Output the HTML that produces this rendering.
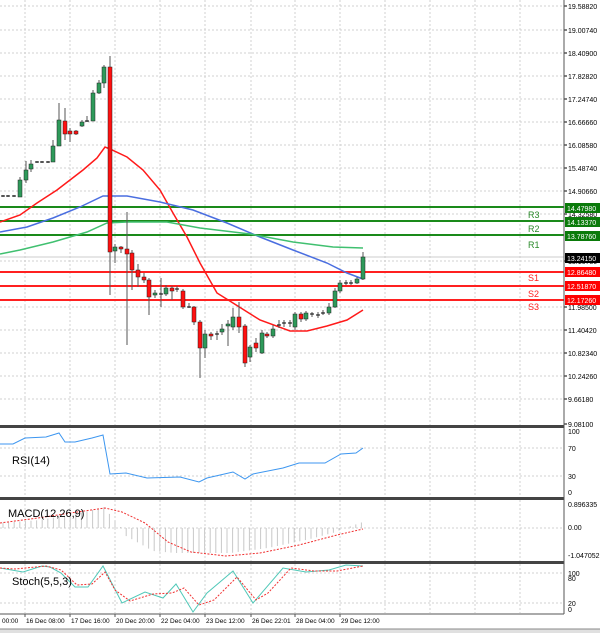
<!DOCTYPE html>
<html><head><meta charset="utf-8"><style>
html,body{margin:0;padding:0;background:#fff;}
svg{display:block;font-family:"Liberation Sans",sans-serif;}
</style></head><body>
<svg id="s" width="600" height="633" viewBox="0 0 600 633" xmlns="http://www.w3.org/2000/svg"></svg>
<script>
var s=document.getElementById('s'),h='';
function L(x1,y1,x2,y2,c,w,d){h+='<line x1="'+x1+'" y1="'+y1+'" x2="'+x2+'" y2="'+y2+'" stroke="'+c+'" stroke-width="'+(w||1)+'"'+(d?' stroke-dasharray="'+d+'"':'')+'/>';}
function P(pts,c,w,d){h+='<polyline fill="none" points="'+pts.map(function(p){return p.join(',')}).join(' ')+'" stroke="'+c+'" stroke-width="'+(w||1)+'"'+(d?' stroke-dasharray="'+d+'"':'')+'/>';}
function T(x,y,t,sz,c,a){h+='<text x="'+x+'" y="'+y+'" font-size="'+sz+'" fill="'+(c||'#000')+'"'+(a?' text-anchor="'+a+'"':'')+'>'+t+'</text>';}
var AX=564,G='#d0d0d0';
// vertical grid
var vx=[25,70,115,160,205,251,295,340,385,430,475,520];
var panels=[[0,425],[429,497],[500,561],[564,613]];
panels.forEach(function(p){vx.forEach(function(x){L(x,p[0],x,p[1],G,1,'2,2');});});
// main price grid/labels
var pl=[[6,'19.58820'],[30,'19.00740'],[53,'18.40900'],[76,'17.82820'],[99,'17.24740'],[122,'16.66660'],[145,'16.08580'],[168,'15.48740'],[191,'14.90660'],[214,'14.32580'],[261,'13.16780'],[307,'11.98500'],[330,'11.40420'],[353,'10.82340'],[376,'10.24260'],[399,'9.66180'],[424,'9.08100']];
pl.forEach(function(p){if(p[0]<420)L(0,p[0],AX,p[0],G,1,'2,2');L(AX,p[0],AX+3,p[0],'#000');T(568,p[0]+3,p[1],7);});
L(0,257,AX,257,'#ccc');
// S/R lines
[[207,'#1a8a1a'],[221,'#1a8a1a'],[235,'#1a8a1a']].forEach(function(r){L(0,r[0],AX,r[0],r[1],2);});
[[272,'#ff2020'],[286,'#ff2020'],[300,'#ff2020']].forEach(function(r){L(0,r[0],AX,r[0],r[1],2);});
T(528,218,'R3',9,'#2a8a2a');T(528,232,'R2',9,'#2a8a2a');T(528,248,'R1',9,'#2a8a2a');
T(528,281,'S1',9,'#ff2020');T(528,297,'S2',9,'#ff2020');T(528,310,'S3',9,'#ff2020');
// MAs
P([[0,222],[20,215],[37,203],[57,190],[83,170],[97,158],[105,147],[110,149],[127,157],[143,170],[160,190],[173,213],[187,237],[200,263],[217,293],[233,303],[260,320],[290,331],[307,331],[327,326],[347,320],[363,310]],'#ff1a1a',1.5);
P([[0,232],[27,227],[53,218],[80,207],[103,196],[127,196],[160,202],[193,210],[227,223],[260,237],[293,250],[327,263],[347,273],[363,279]],'#4a6ee0',1.5);
P([[0,254],[20,250],[53,242],[87,232],[107,223],[127,222],[167,222],[200,228],[250,234],[293,242],[333,247],[363,248]],'#40c070',1.5);
// candles [x,o,c,h,l]
var C=[[3,196,196,195,197],[8,196,196,195,197],[14,196,196,195,197],
[20,197,180,177,197],[26,180,170,161,183],[31,169,164,160,172],[37,162,162,161,163],[42,162,162,161,163],[48,162,162,161,163],
[53,162,146,140,162],[59,146,120,103,146],[65,121,134,108,140],[70,131,134,128,142],[76,131,134,130,135],[82,126,122,120,127],[87,121,121,116,122],
[93,121,93,90,121],[99,93,83,80,94],[104,83,67,65,88],[110,67,252,56,295],[115,251,247,244,263],[121,247,249,246,253],[127,249,254,212,345],
[132,253,270,250,290],[138,270,277,264,287],[144,277,280,273,283],[149,280,297,278,315],[155,295,293,290,298],[161,294,294,278,307],[166,294,288,285,296],
[172,288,291,286,300],[177,289,289,286,292],[183,291,307,289,309],[189,307,307,303,308],[194,307,322,306,325],[200,322,348,320,378],[205,348,334,330,358],
[211,334,336,332,340],[217,334,334,331,340],[222,332,329,324,335],[228,326,324,320,346],[233,327,317,308,330],[239,317,327,302,333],[245,326,363,324,367],
[250,357,347,345,362],[256,343,348,338,352],[262,353,333,330,354],[267,334,336,332,338],[273,336,329,325,338],[279,325,325,320,328],[284,323,323,320,327],
[290,323,323,320,327],[295,327,314,312,330],[301,314,319,312,322],[306,319,313,311,321],[312,314,314,312,317],[318,315,315,312,318],[323,313,313,310,315],
[329,313,307,303,315],[335,307,291,288,308],[340,291,283,280,293],[346,283,283,280,285],[351,283,283,280,285],[357,283,279,277,284],[363,279,257,252,280]];
C.forEach(function(c){var up=c[2]<=c[1];L(c[0],c[3],c[0],c[4],'#555');var t=Math.min(c[1],c[2]),b=Math.abs(c[1]-c[2]);if(b<1){L(c[0]-2,t,c[0]+2,t,'#000');}else{var w=c[0]==110?4:4;h+='<rect x="'+(c[0]-w/2)+'" y="'+t+'" width="'+w+'" height="'+b+'" fill="'+(up?'#2e9a5a':'#ff1010')+'" stroke="#222" stroke-width="0.5"/>';}});
// price tags
[[208,'#0a7a0a','14.47980'],[222,'#0a7a0a','14.13370'],[236,'#0a7a0a','13.78760'],[258,'#000','13.24150'],[272,'#f00','12.86480'],[286,'#f00','12.51870'],[300,'#f00','12.17260']].forEach(function(t){h+='<rect x="565" y="'+(t[0]-5)+'" width="35" height="10" fill="'+t[1]+'"/>';T(567,t[0]+3,t[2],7,'#fff');});
// separators
[[426],[498],[562]].forEach(function(y){h+='<rect x="0" y="'+(y[0]-1)+'" width="'+AX+'" height="3" fill="#444"/>';});
L(AX,0,AX,614,'#555');
// RSI
[[448,'70'],[476,'30']].forEach(function(p){L(0,p[0],AX,p[0],G,1,'2,2');});
T(568,434,'100',7);T(568,451,'70',7);T(568,479,'30',7);T(568,495,'0',7);
P([[0,444],[13,444],[25,438],[46,437],[59,433],[65,442],[75,442],[92,438],[103,435],[110,474],[126,473],[147,478],[180,477],[199,482],[207,478],[233,472],[245,479],[253,474],[283,468],[299,463],[325,463],[341,454],[356,453],[363,448]],'#3c96f0',1);
T(12,464,'RSI(14)',11);
// MACD
L(0,528,AX,528,G,1,'2,2');
T(568,507,'0.896335',7);T(568,530,'0.00',7);T(568,558,'-1.047052',7);
function hv(x){var k=[[0,-5],[40,-8],[80,-15],[105,-21],[112,-10],[120,-2],[126,8],[153,23],[175,25],[230,25],[268,20],[306,12],[333,5],[345,0],[363,-6]];for(var i=1;i<k.length;i++){if(x<=k[i][0]){var a=k[i-1],b=k[i];return a[1]+(b[1]-a[1])*(x-a[0])/(b[0]-a[0]);}}return -6;}
for(var x=3;x<=363;x+=5.6){var v=hv(x);L(x.toFixed(1),528,x.toFixed(1),(528+v).toFixed(1),'#c8c8c8',1);}
P([[0,523],[38,518],[77,512],[105,508],[122,512],[145,523],[168,542],[191,552],[226,556],[260,553],[299,545],[337,535],[363,529]],'#f03030',1,'2,1.5');
T(8,517,'MACD(12,26,9)',11);
// Stoch
L(0,573,AX,573,G,1,'2,2');L(0,603,AX,603,G,1,'2,2');
T(568,576,'100',7);T(568,575+6,'80',7);T(568,606,'20',7);T(568,612,'0',7);
P([[0,568],[23,572],[42,566],[50,567],[61,573],[75,587],[88,587],[103,566],[122,603],[145,592],[163,598],[176,584],[193,612],[207,593],[233,571],[253,603],[283,568],[306,572],[329,570],[346,565],[363,566]],'#50c8b8',1);
P([[0,568],[15,569],[46,566],[61,570],[77,585],[92,584],[105,572],[115,590],[130,601],[153,594],[172,593],[184,588],[199,605],[214,600],[237,577],[256,600],[268,593],[291,568],[314,571],[337,571],[363,566]],'#f03030',1,'2,1.5');
T(12,585,'Stoch(5,5,3)',11);
// time axis
L(0,614,AX,614,'#555');
var tl=[[2,'00:00'],[25,'16 Dec 08:00'],[70,'17 Dec 16:00'],[115,'20 Dec 20:00'],[160,'22 Dec 04:00'],[205,'23 Dec 12:00'],[251,'26 Dec 22:01'],[295,'28 Dec 04:00'],[340,'29 Dec 12:00']];
tl.forEach(function(t){if(t[0]>5)L(t[0],614,t[0],617,'#555');T(t[0]+(t[0]>5?1:0),623,t[1],6.5);});
h+='<rect x="0" y="629" width="600" height="4" fill="#e0e0e0"/>';L(0,629,600,629,'#888');
s.innerHTML=h;
</script>
</body></html>
